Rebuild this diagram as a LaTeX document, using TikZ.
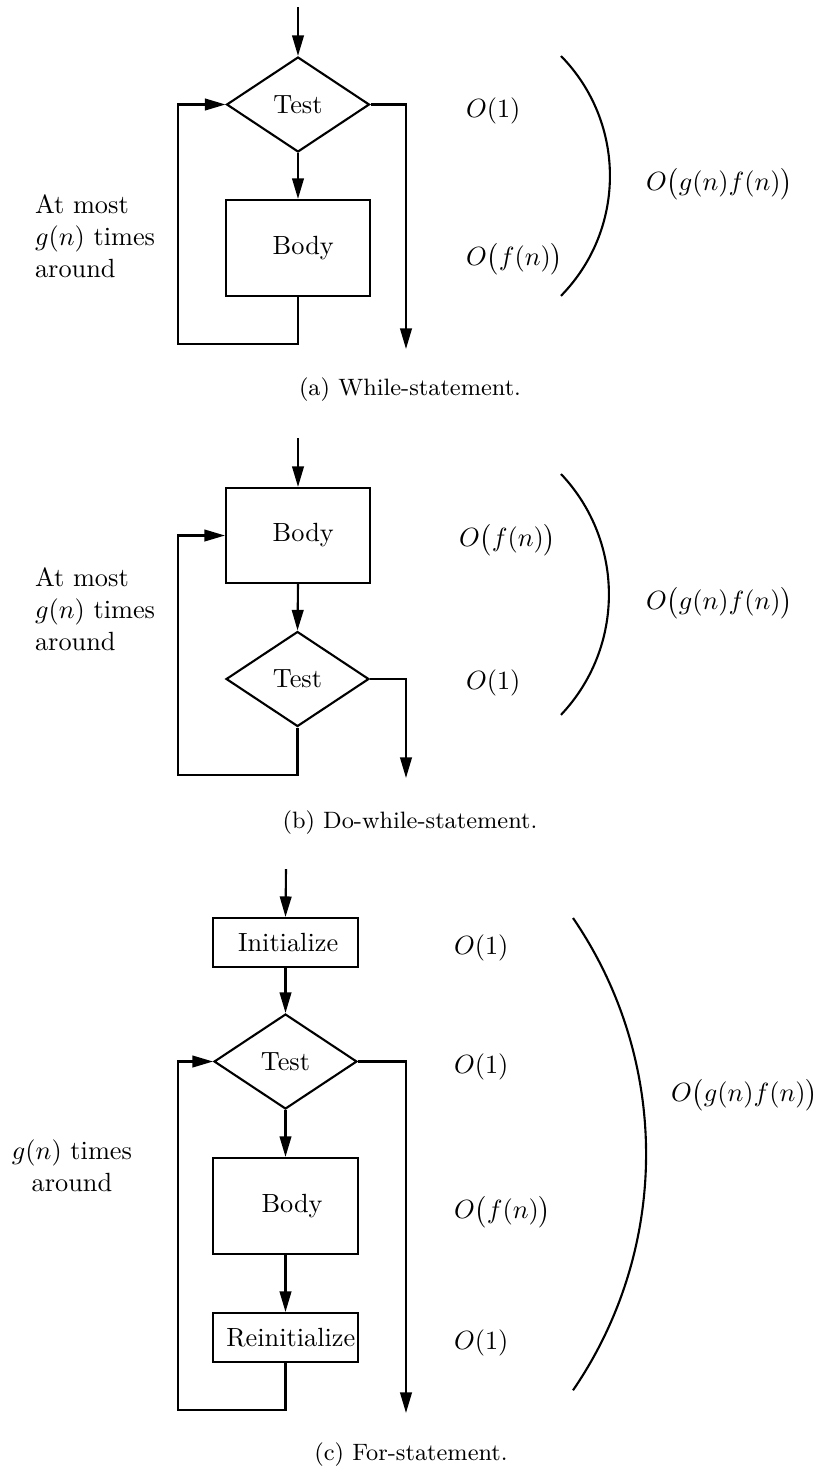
\documentclass[tikz,border=0pt]{standalone}
\usetikzlibrary{shapes.geometric,arrows.meta}
\begin{document}
\begin{tikzpicture}[x=0.38pt,y=-0.38pt,line width=0.8pt,
  arr/.style={-{Triangle[length=7.8pt,width=4.4pt]}},
  decision/.style={draw,diamond,inner sep=0pt,minimum width=54.3pt,minimum height=36.1pt},
  block/.style={draw,rectangle,inner sep=0pt,minimum width=#1},
  block/.default=54.7pt,
  cost/.style={anchor=west,inner sep=0pt},
  note/.style={inner sep=0pt,align=left,anchor=north west},
  capt/.style={anchor=base,inner sep=0pt,font=\small}]
\useasboundingbox (0,0) rectangle (819,1470);

% ---------------- (a) While-statement
\coordinate (a0) at (298,7);
\node[decision] (ta) at (298,104.5) {Test};
\node[block,minimum height=36.5pt] (ba) at (298,248) {\hspace*{4pt}Body};
\coordinate (aL) at (178,344);
\coordinate (aE) at (406,349);
\draw[arr] (a0) -- (ta.north);
\draw[arr] (ta.south) -- (ba.north);
\draw[arr] (ba.south) |- (aL) |- (ta.west);
\draw[arr] (ta.east) -| (aE);
\node[cost] (a1) at (465,111) {$O(1)$};
\node[cost] (a2) at (465,259) {$O\bigl(f(n)\bigr)$};
\draw (561,56) arc[start angle=-44.4,end angle=44.4,radius=171.4];
\node[cost] (a3) at (645,184) {$O\bigl(g(n)f(n)\bigr)$};
\node[note] (an) at (34,194) {At most\\$g(n)$ times\\around};
\node[capt] (ac) at (410,395) {(a) While-statement.};

% ---------------- (b) Do-while-statement
\coordinate (b0) at (298,438);
\node[block,minimum height=36.1pt] (bb) at (298,535.5) {\hspace*{4pt}Body};
\node[decision] (tb) at (297.5,679) {Test};
\coordinate (bL) at (178,775);
\coordinate (bE) at (406,778);
\draw[arr] (b0) -- (bb.north);
\draw[arr] (bb.south) -- (tb.north);
\draw[arr] (tb.south) |- (bL) |- (bb.west);
\draw[arr] (tb.east) -| (bE);
\node[cost] (b1) at (458,540) {$O\bigl(f(n)\bigr)$};
\node[cost] (b2) at (465,683) {$O(1)$};
\draw (561,474) arc[start angle=-43.4,end angle=43.4,radius=175.25];
\node[cost] (b3) at (645,603) {$O\bigl(g(n)f(n)\bigr)$};
\node[note] (bn) at (34,567) {At most\\$g(n)$ times\\around};
\node[capt] (bc) at (410,828) {(b) Do-while-statement.};

% ---------------- (c) For-statement
\coordinate (c0) at (286,869);
\node[block=55.1pt,minimum height=18.6pt] (ic) at (285.5,942.5) {\hspace*{2pt}Initialize};
\node[decision] (tc) at (285.5,1061.5) {Test};
\node[block=55.1pt,minimum height=36.5pt] (bdc) at (285.5,1206) {\hspace*{5pt}Body};
\node[block=55.1pt,minimum height=18.6pt] (rc) at (285.5,1337.5) {\hspace*{4pt}Reinitialize};
\coordinate (cL) at (178,1410);
\coordinate (cE) at (406,1413);
\draw[arr] (c0) -- (ic.north);
\draw[arr] (ic.south) -- (tc.north);
\draw[arr] (tc.south) -- (bdc.north);
\draw[arr] (bdc.south) -- (rc.north);
\draw[arr] (rc.south) |- (cL) |- (tc.west);
\draw[arr] (tc.east) -| (cE);
\node[cost] (c1) at (453,948) {$O(1)$};
\node[cost] (c2) at (453,1067) {$O(1)$};
\node[cost] (c3) at (453,1212) {$O\bigl(f(n)\bigr)$};
\node[cost] (c4) at (453,1343) {$O(1)$};
\draw (573,918) arc[start angle=-34.4,end angle=34.4,radius=418];
\node[cost] (c5) at (670,1095) {$O\bigl(g(n)f(n)\bigr)$};
\node[inner sep=0pt,align=center,anchor=north] (cn) at (72,1139) {$g(n)$ times\\around};
\node[capt] (cc) at (411,1460) {(c) For-statement.};
\end{tikzpicture}
\end{document}
